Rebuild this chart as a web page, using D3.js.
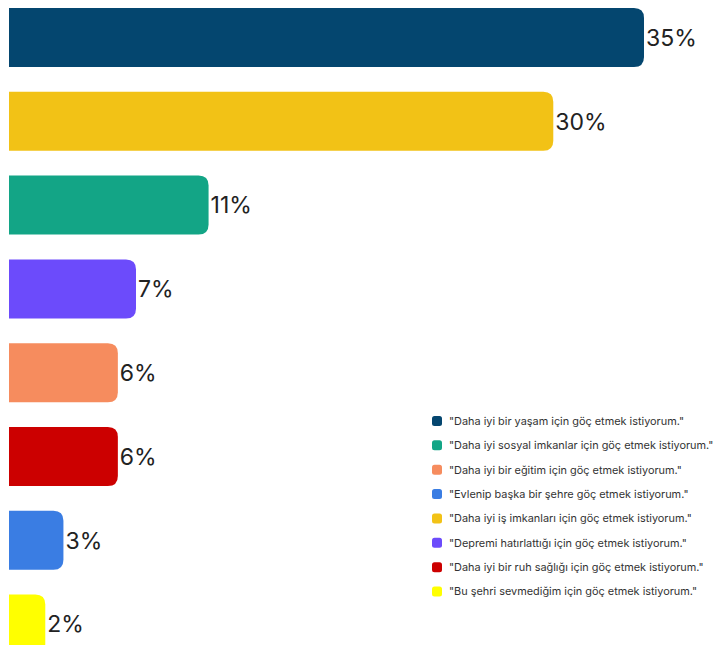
<!DOCTYPE html>
<html><head><meta charset="utf-8">
<script src="https://cdn.jsdelivr.net/npm/d3@7"></script>
<style>body{margin:0;background:#fff}svg{display:block}</style>
</head><body>
<div id="chart"></div>
<script>
const categories = ["Daha iyi bir yaşam", "Daha iyi iş imkanları", "Daha iyi sosyal imkanlar", "Depremi hatırlattığı", "Daha iyi bir eğitim", "Daha iyi bir ruh sağlığı", "Evlenip başka bir şehre", "Bu şehri sevmediğim"];
const values = [35, 30, 11, 7, 6, 6, 3, 2];
const barColors = ["#04466F", "#F2C216", "#13A586", "#6C4BFB", "#F68C5E", "#CC0000", "#3A7DE3", "#FFFF00"];
const legendLabels = [
  "\"Daha iyi bir yaşam için göç etmek istiyorum.\"",
  "\"Daha iyi sosyal imkanlar için göç etmek istiyorum.\"",
  "\"Daha iyi bir eğitim için göç etmek istiyorum.\"",
  "\"Evlenip başka bir şehre göç etmek istiyorum.\"",
  "\"Daha iyi iş imkanları için göç etmek istiyorum.\"",
  "\"Depremi hatırlattığı için göç etmek istiyorum.\"",
  "\"Daha iyi bir ruh sağlığı için göç etmek istiyorum.\"",
  "\"Bu şehri sevmediğim için göç etmek istiyorum.\""
];
const legendColors = ["#04466F", "#13A586", "#F68C5E", "#3A7DE3", "#F2C216", "#6C4BFB", "#CC0000", "#FFFF00"];

const W = 720, H = 645;
const svg = d3.select("#chart").append("svg").attr("width", W).attr("height", H);

const x = d3.scaleLinear().domain([0, 35]).range([9, 644]);
const y = d3.scaleBand().domain(categories).range([0, 645.6]).paddingInner(0.296).paddingOuter(0.0).align(0);
const yOff = 8;
const r = 10;

function barPath(x0, x1, y0, h) {
  const rr = Math.min(r, (x1 - x0), h / 2);
  return `M${x0},${y0}H${x1 - rr}Q${x1},${y0} ${x1},${y0 + rr}V${y0 + h - rr}Q${x1},${y0 + h} ${x1 - rr},${y0 + h}H${x0}Z`;
}

const g = svg.append("g").attr("transform", `translate(0,${yOff})`);
g.selectAll("path.bar").data(values).join("path")
  .attr("class", "bar")
  .attr("d", (d, i) => barPath(x(0), x(d), y(categories[i]), y.bandwidth()))
  .attr("fill", (d, i) => barColors[i]);

g.selectAll("text.val").data(values).join("text")
  .attr("class", "val")
  .attr("x", d => x(d) + 2)
  .attr("y", (d, i) => Math.min(y(categories[i]) + y.bandwidth() / 2, 620))
  .attr("dy", "0.36em")
  .attr("font-family", "Inter, 'Noto Sans', sans-serif")
  .attr("font-size", 23)
  .attr("fill", "#222")
  .text(d => d + "%");

const leg = svg.append("g").attr("transform", "translate(432,416)");
const ly = d3.scalePoint().domain(d3.range(legendLabels.length)).range([0, 170.5]);
const items = leg.selectAll("g").data(legendLabels).join("g")
  .attr("transform", (d, i) => `translate(0,${ly(i)})`);
items.append("rect").attr("width", 10).attr("height", 10).attr("rx", 2.5)
  .attr("fill", (d, i) => legendColors[i]);
items.append("text").attr("x", 17).attr("y", 5).attr("dy", "0.35em")
  .attr("font-family", "Inter, 'Noto Sans', sans-serif")
  .attr("font-size", 10.9).attr("fill", "#333")
  .text(d => d);
</script>
</body></html>
